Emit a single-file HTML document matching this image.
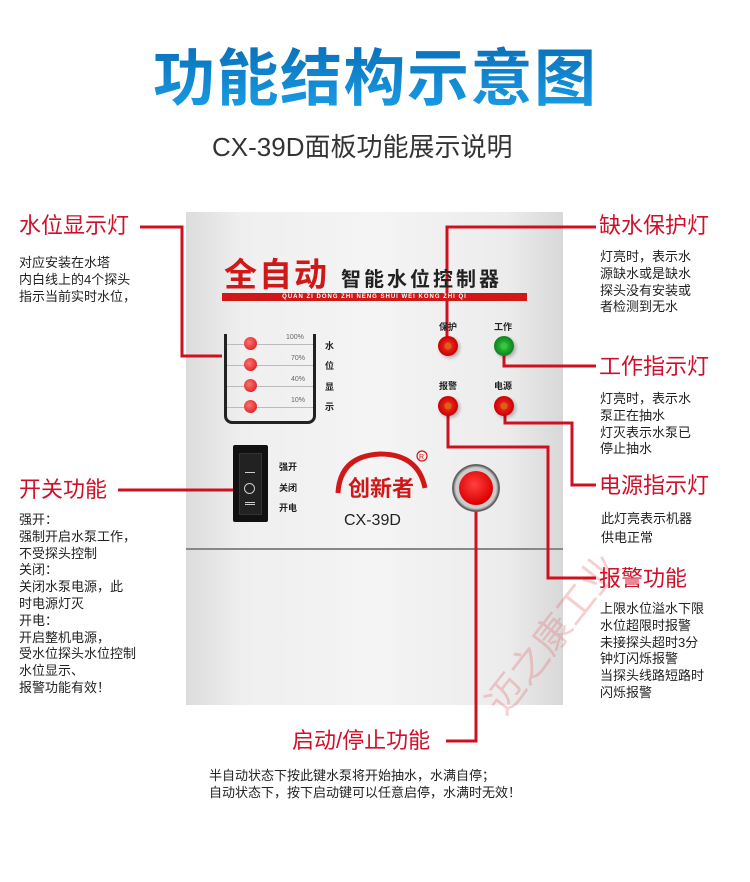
<!DOCTYPE html>
<html><head><meta charset="utf-8">
<style>
*{margin:0;padding:0;box-sizing:border-box}
body{width:750px;height:882px;background:#fff;position:relative;overflow:hidden;font-family:"Liberation Sans","Noto Sans CJK SC",sans-serif}
.a{position:absolute;white-space:nowrap}
.h{color:#d0102a;font-size:22px;line-height:24px}
.d{color:#222;font-size:13px;line-height:16.8px}
.panel{position:absolute;left:186px;top:212px;width:377px;height:493px;background:linear-gradient(90deg,#dcdcdc 0%,#efefef 15%,#f4f4f4 50%,#ececec 85%,#d8d8d8 100%);}
.led{position:absolute;width:20px;height:20px;border-radius:50%;background:radial-gradient(circle at 50% 50%,#e06010 0 3px,#e02020 4px,#c00 10px);box-shadow:2px 2px 3px rgba(0,0,0,.25)}
.sl{position:absolute;width:13px;height:13px;border-radius:50%;background:radial-gradient(circle at 40% 40%,#ff7070,#d01010);}
.pc{position:absolute;font-size:7px;color:#666}
.lb{position:absolute;font-size:9px;font-weight:bold;color:#222}
</style></head><body>
<div class="a" style="left:153px;top:44px;font-size:62px;font-weight:bold;line-height:72px;letter-spacing:1.5px;background:linear-gradient(180deg,#0a70b8,#1aa0ea);-webkit-background-clip:text;color:transparent">功能结构示意图</div>
<div class="a" style="left:212px;top:132px;font-size:26px;color:#333;line-height:30px">CX-39D面板功能展示说明</div>

<div class="panel"></div>
<div class="a" style="left:186px;top:548px;width:377px;height:2px;background:#888"></div>

<!-- watermark -->
<div class="a" style="left:470px;top:690px;font-size:38px;color:rgba(230,120,120,.35);transform:rotate(-52deg);transform-origin:left top">迈之康工业</div>

<svg class="a" style="left:0;top:0" width="750" height="882">
<g stroke="#d0101e" stroke-width="3" fill="none">
<polyline points="140,227 182,227 182,356 222,356"/>
<polyline points="118,490 234,490"/>
<polyline points="447,346 447,227 596,227"/>
<polyline points="504,346 504,366 596,366"/>
<polyline points="505,406 505,423 572,423 572,485 596,485"/>
<polyline points="448,406 448,447 548,447 548,578 596,578"/>
<polyline points="476,500 476,741 446,741"/>
</g></svg>

<!-- panel title -->
<div class="a" style="left:224px;top:257px;font-size:33px;font-weight:bold;color:#d01818;line-height:36px;letter-spacing:2px">全自动</div>
<div class="a" style="left:341px;top:268px;font-size:20px;font-weight:bold;color:#222;line-height:24px;letter-spacing:3px">智能水位控制器</div>
<div class="a" style="left:222px;top:293px;width:305px;height:8px;background:#d01818;color:#fff;font-size:6px;font-weight:bold;line-height:8px;text-align:center;letter-spacing:1px">QUAN ZI DONG ZHI NENG SHUI WEI KONG ZHI QI</div>

<!-- tank -->
<div class="a" style="left:224px;top:334px;width:92px;height:90px;border:3px solid #222;border-top:none;border-radius:0 0 8px 8px"></div>
<div class="a" style="left:227px;top:344px;width:86px;border-top:1px solid #bbb"></div>
<div class="a" style="left:227px;top:365px;width:86px;border-top:1px solid #bbb"></div>
<div class="a" style="left:227px;top:386px;width:86px;border-top:1px solid #bbb"></div>
<div class="a" style="left:227px;top:407px;width:86px;border-top:1px solid #bbb"></div>
<div class="sl" style="left:244px;top:337px"></div>
<div class="sl" style="left:244px;top:358px"></div>
<div class="sl" style="left:244px;top:379px"></div>
<div class="sl" style="left:244px;top:400px"></div>
<div class="pc" style="left:286px;top:334px">100%</div>
<div class="pc" style="left:291px;top:355px">70%</div>
<div class="pc" style="left:291px;top:376px">40%</div>
<div class="pc" style="left:291px;top:397px">10%</div>
<div class="lb" style="left:325px;top:339px">水</div>
<div class="lb" style="left:325px;top:359px">位</div>
<div class="lb" style="left:325px;top:380px">显</div>
<div class="lb" style="left:325px;top:400px">示</div>

<!-- LEDs -->
<div class="lb" style="left:439px;top:320px">保护</div>
<div class="lb" style="left:494px;top:320px">工作</div>
<div class="lb" style="left:439px;top:379px">报警</div>
<div class="lb" style="left:494px;top:379px">电源</div>
<div class="led" style="left:438px;top:336px"></div>
<div class="led" style="left:494px;top:336px;background:radial-gradient(circle,#40c040 0 3px,#20b030 4px,#108020 10px)"></div>
<div class="led" style="left:438px;top:396px"></div>
<div class="led" style="left:494px;top:396px"></div>

<!-- switch -->
<div class="a" style="left:233px;top:445px;width:35px;height:77px;background:#111;border-radius:2px"></div>
<div class="a" style="left:239px;top:453px;width:23px;height:62px;background:#222;border:1px solid #333"></div>
<div class="a" style="left:245px;top:472px;width:10px;border-top:1px solid #ccc"></div>
<div class="a" style="left:244px;top:483px;width:11px;height:11px;border:1px solid #ccc;border-radius:50%"></div>
<div class="a" style="left:245px;top:502px;width:10px;height:3px;border-top:1px solid #ccc;border-bottom:1px solid #ccc"></div>
<div class="lb" style="left:279px;top:460px">强开</div>
<div class="lb" style="left:279px;top:481px">关闭</div>
<div class="lb" style="left:279px;top:501px">开电</div>

<!-- logo -->
<svg class="a" style="left:330px;top:448px" width="110" height="60"><path d="M8 45 Q10 8 50 6 Q88 6 95 40" stroke="#d01818" stroke-width="5" fill="none"/><text x="18" y="48" font-size="22" font-weight="bold" fill="#d01818" font-family="Liberation Sans,Noto Sans CJK SC,sans-serif">创新者</text><circle cx="92" cy="8" r="5" stroke="#d01818" fill="none" stroke-width="1.2"/><text x="89" y="11" font-size="7" fill="#d01818">R</text></svg>
<div class="a" style="left:344px;top:512px;font-size:16px;color:#222">CX-39D</div>

<!-- button -->
<div class="a" style="left:452px;top:464px;width:48px;height:48px;border-radius:50%;background:radial-gradient(circle,#ccc 60%,#555 68%,#eee 80%,#999 100%)"></div>
<div class="a" style="left:459px;top:471px;width:34px;height:34px;border-radius:50%;background:radial-gradient(circle at 45% 40%,#ff4040,#d00 70%,#a00)"></div>

<!-- left texts -->
<div class="a h" style="left:19px;top:214px">水位显示灯</div>
<div class="a d" style="left:19px;top:255px">对应安装在水塔<br>内白线上的4个探头<br>指示当前实时水位，</div>
<div class="a h" style="left:19px;top:478px">开关功能</div>
<div class="a d" style="left:19px;top:512px">强开：<br>强制开启水泵工作，<br>不受探头控制<br>关闭：<br>关闭水泵电源，此<br>时电源灯灭<br>开电：<br>开启整机电源，<br>受水位探头水位控制<br>水位显示、<br>报警功能有效！</div>

<!-- right texts -->
<div class="a h" style="left:599px;top:214px">缺水保护灯</div>
<div class="a d" style="left:600px;top:249px">灯亮时，表示水<br>源缺水或是缺水<br>探头没有安装或<br>者检测到无水</div>
<div class="a h" style="left:599px;top:355px">工作指示灯</div>
<div class="a d" style="left:600px;top:391px">灯亮时，表示水<br>泵正在抽水<br>灯灭表示水泵已<br>停止抽水</div>
<div class="a h" style="left:599px;top:474px">电源指示灯</div>
<div class="a d" style="left:601px;top:509px;line-height:19px">此灯亮表示机器<br>供电正常</div>
<div class="a h" style="left:599px;top:567px">报警功能</div>
<div class="a d" style="left:600px;top:601px">上限水位溢水下限<br>水位超限时报警<br>未接探头超时3分<br>钟灯闪烁报警<br>当探头线路短路时<br>闪烁报警</div>

<div class="a h" style="left:292px;top:729px">启动/停止功能</div>
<div class="a d" style="left:209px;top:767px;line-height:17px">半自动状态下按此键水泵将开始抽水，水满自停；<br>自动状态下，按下启动键可以任意启停，水满时无效！</div>
</body></html>
